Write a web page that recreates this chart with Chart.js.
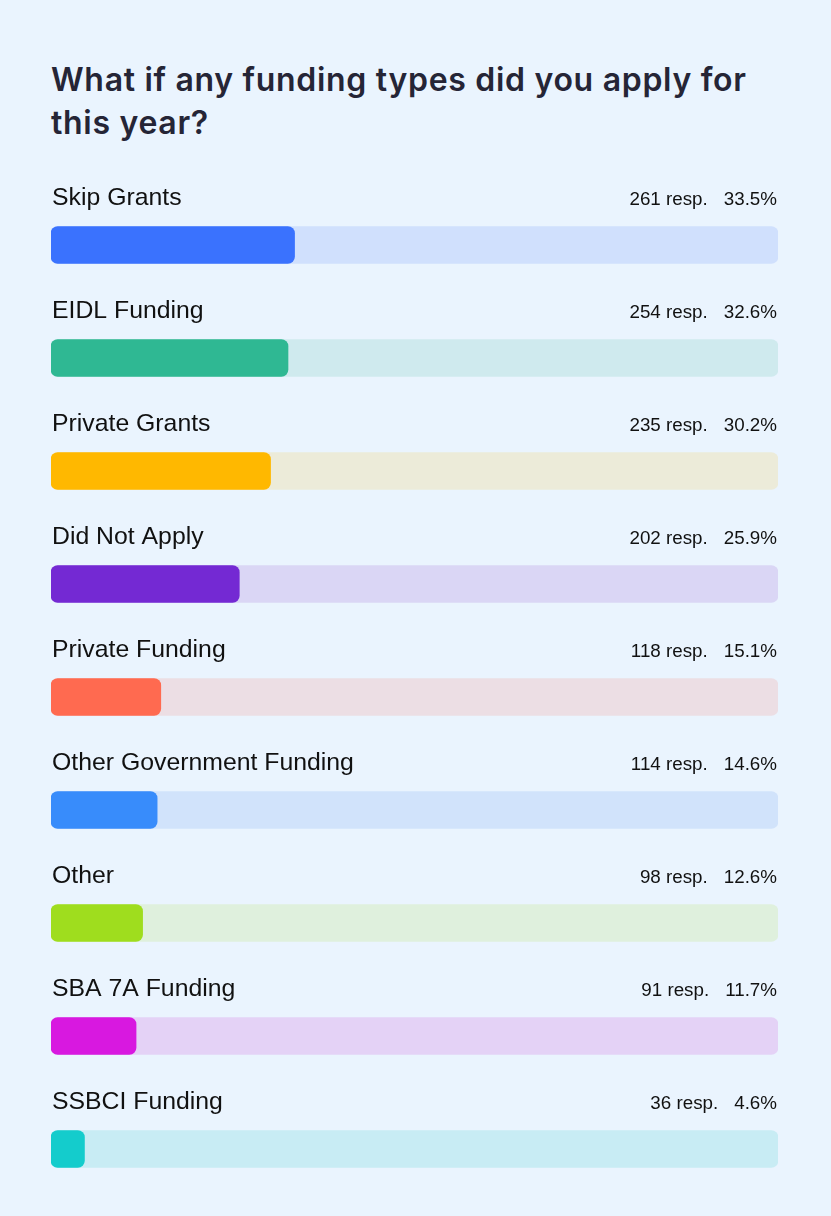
<!DOCTYPE html>
<html>
<head>
<meta charset="utf-8">
<script src="https://cdn.jsdelivr.net/npm/chart.js@4"></script>
<style>
  html, body { margin: 0; padding: 0; background: #eaf4fe; }
  #wrap { position: relative; width: 831px; height: 1216px; }
  #title {
    position: absolute; left: 51px; top: 58px; white-space: nowrap;
    font-family: Inter, "Open Sans", sans-serif; font-weight: 600;
    font-size: 32px; line-height: 43px; color: #252536; letter-spacing: 0.7px;
  }
  canvas { position: absolute; left: 0; top: 0; }
</style>
</head>
<body>
<div id="wrap">
  <div id="title">What if any funding types did you apply for<br>this year?</div>
  <canvas id="myChart" width="831" height="1216"></canvas>
</div>
<script>
var categories = ['Skip Grants', 'EIDL Funding', 'Private Grants', 'Did Not Apply', 'Private Funding',
  'Other Government Funding', 'Other', 'SBA 7A Funding', 'SSBCI Funding'];
var responses = [261, 254, 235, 202, 118, 114, 98, 91, 36];
var percents = [33.5, 32.6, 30.2, 25.9, 15.1, 14.6, 12.6, 11.7, 4.6];
var fillColors = ['#3a72fe', '#2fb893', '#ffb800', '#7429d3', '#ff6a50', '#388cfb', '#9fdd1e', '#d818e0', '#14cccc'];
var trackColors = ['#d0e0fd', '#cfeaee', '#ecebd9', '#dad6f5', '#ecdee4', '#d1e3fb', '#dff0dd', '#e4d2f6', '#c8ecf4'];

var full = [];
for (var i = 0; i < categories.length; i++) {
  full.push(100);
}

// labels above each bar, counts and percents on the right
var rowText = {
  id: 'rowText',
  afterDatasetsDraw: function(chart) {
    var ctx = chart.ctx;
    var y = chart.scales.y;
    var area = chart.chartArea;
    ctx.save();
    ctx.textBaseline = 'alphabetic';
    for (var i = 0; i < categories.length; i++) {
      var base = y.getPixelForValue(i) - 40;
      ctx.fillStyle = '#111111';
      ctx.font = '24.8px "Liberation Sans", Arial, sans-serif';
      ctx.textAlign = 'left';
      ctx.fillText(categories[i], area.left + 1, base);
      ctx.font = '18.8px "Liberation Sans", Arial, sans-serif';
      ctx.textAlign = 'right';
      var pct = percents[i].toFixed(1) + '%';
      ctx.fillText(pct, area.right - 1, base);
      var w = ctx.measureText(pct).width;
      ctx.fillText(responses[i] + ' resp.', area.right - 1 - w - 16, base);
    }
    ctx.restore();
  }
};

var ctx = document.getElementById('myChart').getContext('2d');
var myChart = new Chart(ctx, {
  type: 'bar',
  data: {
    labels: categories,
    datasets: [{
      label: 'Percent',
      data: percents,
      backgroundColor: fillColors,
      borderRadius: 7,
      borderSkipped: false,
      barThickness: 37,
      order: 0
    }, {
      label: 'Track',
      data: full,
      backgroundColor: trackColors,
      borderRadius: 7,
      borderSkipped: false,
      barThickness: 37,
      order: 1
    }]
  },
  options: {
    responsive: false,
    animation: false,
    devicePixelRatio: 1,
    indexAxis: 'y',
    layout: { padding: { top: 188.5, bottom: 10.5, left: 51, right: 53 } },
    datasets: { bar: { grouped: false } },
    scales: {
      x: { display: false, min: 0, max: 100 },
      y: { display: false }
    },
    plugins: {
      legend: { display: false },
      tooltip: { enabled: false }
    }
  },
  plugins: [rowText]
});
</script>
</body>
</html>
